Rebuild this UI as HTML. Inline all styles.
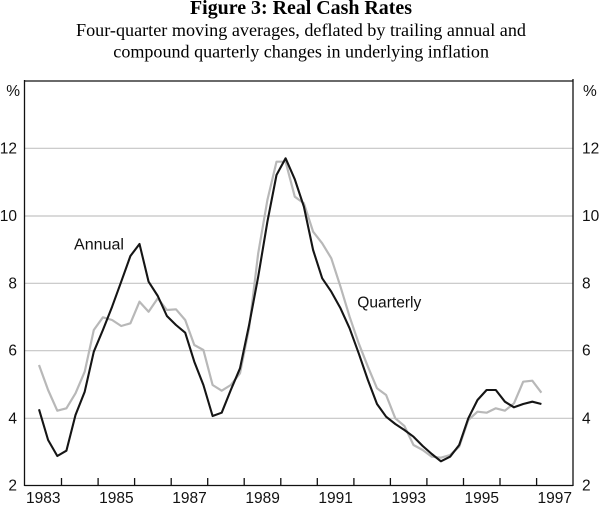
<!DOCTYPE html>
<html>
<head>
<meta charset="utf-8">
<style>
html,body{margin:0;padding:0;background:#fff;}
svg{display:block;}
.s{font-family:"Liberation Serif","Times New Roman",serif;fill:#000;}
.a{font-family:"Liberation Sans",Arial,sans-serif;fill:#111;font-size:15.5px;}
</style>
</head>
<body>
<svg width="600" height="505" viewBox="0 0 600 505" xmlns="http://www.w3.org/2000/svg">
<rect x="0" y="0" width="600" height="505" fill="#fff"/>
<!-- titles -->
<text class="s" x="190" y="14" font-size="20" font-weight="bold" textLength="222" lengthAdjust="spacingAndGlyphs">Figure 3: Real Cash Rates</text>
<text class="s" x="76" y="36" font-size="17.5" textLength="450" lengthAdjust="spacingAndGlyphs">Four-quarter moving averages, deflated by trailing annual and</text>
<text class="s" x="113.3" y="57.3" font-size="17.5" textLength="375.7" lengthAdjust="spacingAndGlyphs">compound quarterly changes in underlying inflation</text>

<!-- gridlines -->
<g stroke="#c4c4c4" stroke-width="1.2">
<line x1="25" y1="148.3" x2="573" y2="148.3"/>
<line x1="25" y1="216" x2="573" y2="216"/>
<line x1="25" y1="283.3" x2="573" y2="283.3"/>
<line x1="25" y1="350.7" x2="573" y2="350.7"/>
<line x1="25" y1="418.3" x2="573" y2="418.3"/>
</g>

<!-- series -->
<polyline fill="none" stroke="#b8b8b8" stroke-width="2.2" stroke-linejoin="round" points="
39,365 48.1,390 57.3,410.7 66.4,408.3 75.5,393.3 84.7,371.7 93.8,330 102.9,317.3 112.1,320 121.2,326
130.4,323.3 139.5,301.7 148.6,311.7 157.8,298.3 166.9,310 176,309.3 185.2,320 194.3,345 203.4,350 212.6,385
221.7,390.7 230.8,385 240,373.3 249.1,328.3 258.2,253.3 267.4,200 276.5,161.7 285.6,161.7 294.8,196.7 303.9,203.3
313.1,231.7 322.2,243.3 331.3,258.3 340.5,286.7 349.6,316.7 358.7,343.3 367.9,366.7 377,388.3 386.1,395 395.3,418.3
404.4,426 413.5,445 422.7,450 431.8,456.7 440.9,457.7 450.1,455 459.2,446.7 468.3,420 477.5,411.7 486.6,412.7
495.8,408.3 504.9,410.7 514,403.3 523.2,381.7 532.3,380.7 541.4,392.7"/>
<polyline fill="none" stroke="#151515" stroke-width="2.1" stroke-linejoin="round" points="
39,409.3 48.1,440 57.3,456 66.4,450.7 75.5,415 84.7,391.7 93.8,351.7 102.9,330 112.1,306.7 121.2,281.7
130.4,256 139.5,244 148.6,281.7 157.8,296 166.9,316 176,325 185.2,332.7 194.3,361.7 203.4,385 212.6,416
221.7,412.7 230.8,390 240,368.3 249.1,325 258.2,276.7 267.4,221.7 276.5,175 285.6,158.3 294.8,179.3 303.9,206.7
313.1,250 322.2,278.3 331.3,291.7 340.5,308.3 349.6,328.3 358.7,353.3 367.9,380 377,404 386.1,416.7 395.3,424
404.4,430 413.5,436.7 422.7,446 431.8,454 440.9,461.3 450.1,456.7 459.2,445 468.3,418.3 477.5,400 486.6,390
495.8,390 504.9,401.7 514,407.3 523.2,404 532.3,401.7 541.4,404"/>

<!-- frame -->
<g stroke="#111" stroke-width="1.3" fill="none">
<line x1="24.5" y1="81" x2="573" y2="81"/>
<line x1="24.5" y1="80" x2="24.5" y2="486"/>
<line x1="573" y1="79" x2="573" y2="486"/>
<line x1="24.5" y1="485.5" x2="573" y2="485.5"/>
</g>
<!-- x ticks -->
<g stroke="#111" stroke-width="1.3">
<line x1="61.5" y1="478" x2="61.5" y2="485.5"/>
<line x1="98.1" y1="478" x2="98.1" y2="485.5"/>
<line x1="134.6" y1="478" x2="134.6" y2="485.5"/>
<line x1="171.2" y1="478" x2="171.2" y2="485.5"/>
<line x1="207.7" y1="478" x2="207.7" y2="485.5"/>
<line x1="244.2" y1="478" x2="244.2" y2="485.5"/>
<line x1="280.8" y1="478" x2="280.8" y2="485.5"/>
<line x1="317.3" y1="478" x2="317.3" y2="485.5"/>
<line x1="353.9" y1="478" x2="353.9" y2="485.5"/>
<line x1="390.4" y1="478" x2="390.4" y2="485.5"/>
<line x1="426.9" y1="478" x2="426.9" y2="485.5"/>
<line x1="463.5" y1="478" x2="463.5" y2="485.5"/>
<line x1="500" y1="478" x2="500" y2="485.5"/>
<line x1="536.6" y1="478" x2="536.6" y2="485.5"/>
</g>

<!-- x labels -->
<g class="a" text-anchor="middle">
<text x="43.3" y="503">1983</text>
<text x="116.4" y="503">1985</text>
<text x="189.5" y="503">1987</text>
<text x="262.6" y="503">1989</text>
<text x="335.6" y="503">1991</text>
<text x="408.7" y="503">1993</text>
<text x="481.8" y="503">1995</text>
<text x="554.8" y="503">1997</text>
</g>

<!-- left y labels -->
<g class="a" text-anchor="end">
<text x="20" y="96">%</text>
<text x="17" y="153.3">12</text>
<text x="17" y="221">10</text>
<text x="17" y="288.3">8</text>
<text x="17" y="355.7">6</text>
<text x="17" y="423.3">4</text>
<text x="17" y="490.5">2</text>
</g>
<!-- right y labels -->
<g class="a" text-anchor="start">
<text x="583" y="96">%</text>
<text x="582" y="153.3">12</text>
<text x="582" y="221">10</text>
<text x="582" y="288.3">8</text>
<text x="582" y="355.7">6</text>
<text x="582" y="423.3">4</text>
<text x="582" y="490.5">2</text>
</g>

<!-- series labels -->
<text class="a" x="74" y="249.5" textLength="50" lengthAdjust="spacingAndGlyphs">Annual</text>
<text class="a" x="357.3" y="307.5" textLength="64" lengthAdjust="spacingAndGlyphs">Quarterly</text>
</svg>
</body>
</html>
